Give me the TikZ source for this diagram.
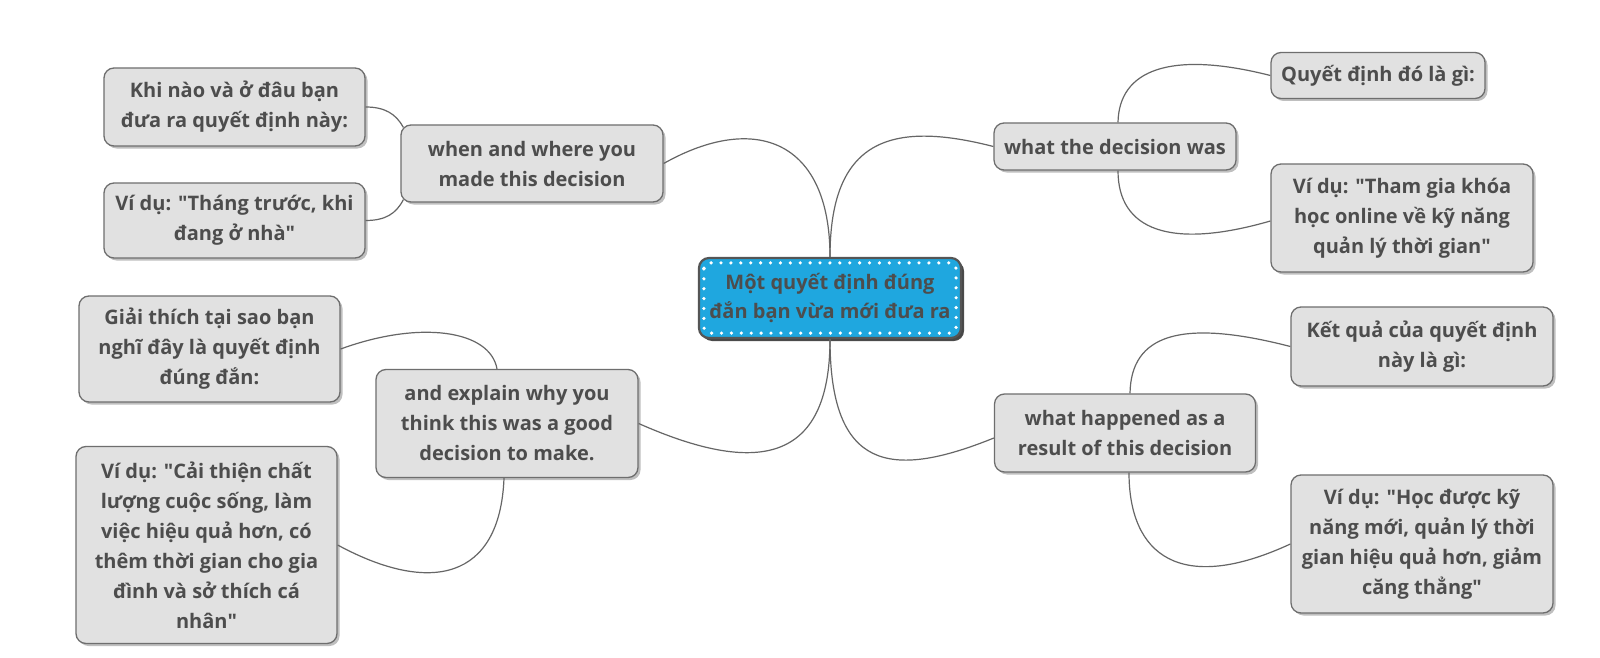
\documentclass[tikz,border=0pt]{standalone}
\usepackage{fontspec}
\setmainfont{Open Sans}
\newfontfamily\quotefont{Open Sans}
\usetikzlibrary{shadows,calc}
\definecolor{boxfill}{HTML}{E1E1E1}
\definecolor{boxline}{HTML}{6E6E6E}
\definecolor{txt}{HTML}{4D4D4D}
\definecolor{cfill}{HTML}{1FA7DF}
\definecolor{cline}{HTML}{555555}
\definecolor{conn}{HTML}{666666}
\newcommand\dq{{\quotefont"}}
\begin{document}
\begin{tikzpicture}[x=1pt,y=-1pt,
 topic/.style={draw=boxline, line width=1.3pt, fill=boxfill, rounded corners=10pt, text=txt, align=center,
   font=\fontsize{20}{30}\selectfont\bfseries, inner sep=0pt,
   drop shadow={shadow xshift=2.5pt, shadow yshift=-2.5pt, opacity=0.45, fill=black!55}},
 centre/.style={topic, fill=cfill, draw=cline, line width=2.2pt,
   drop shadow={shadow xshift=3pt, shadow yshift=-3pt, opacity=0.85, fill=black!80}},
 link/.style={draw=conn, line width=1.2pt},
 dots/.style={white, line width=3.6pt, line cap=round, dash pattern=on 0pt off 9.9pt, rounded corners=6pt}]
\useasboundingbox[fill=white] (0,0) rectangle (1600,658);

% nodes
\node[centre, minimum width=262pt, minimum height=80pt, font=\fontsize{20}{29}\selectfont\bfseries] (central) at (830,298) {Một quyết định đúng\\đắn bạn vừa mới đưa ra};
\draw[dots] ($(central.north west)+(6,6)$) rectangle ($(central.south east)+(-6,-6)$);

\node[topic, minimum width=262pt, minimum height=77pt] (when) at (532,163.5) {when and where you\\made this decision};
\node[topic, minimum width=261pt, minimum height=78pt] (khi) at (234.5,107) {Khi nào và ở đâu bạn\\đưa ra quyết định này:};
\node[topic, minimum width=261pt, minimum height=75pt] (vd1) at (234.5,220.5) {Ví dụ: \dq Tháng trước, khi\\đang ở nhà\dq};

\node[topic, minimum width=242pt, minimum height=47pt] (what) at (1115,146.5) {what the decision was};
\node[topic, minimum width=214pt, minimum height=46pt] (quyet) at (1378,75.5) {Quyết định đó là gì:};
\node[topic, minimum width=262pt, minimum height=108pt] (vd2) at (1402,218) {Ví dụ: \dq Tham gia khóa\\học online về kỹ năng\\quản lý thời gian\dq};

\node[topic, minimum width=262pt, minimum height=108pt] (explain) at (507,423.5) {and explain why you\\think this was a good\\decision to make.};
\node[topic, minimum width=261pt, minimum height=106pt] (giai) at (209.5,349) {Giải thích tại sao bạn\\nghĩ đây là quyết định\\đúng đắn:};
\node[topic, minimum width=261pt, minimum height=197pt] (vd3) at (206.5,545) {Ví dụ: \dq Cải thiện chất\\lượng cuộc sống, làm\\việc hiệu quả hơn, có\\thêm thời gian cho gia\\đình và sở thích cá\\nhân\dq};

\node[topic, minimum width=261pt, minimum height=78pt] (happened) at (1125,433) {what happened as a\\result of this decision};
\node[topic, minimum width=262pt, minimum height=79pt] (ketqua) at (1422,346.5) {Kết quả của quyết định\\này là gì:};
\node[topic, minimum width=262pt, minimum height=138pt] (vd4) at (1422,544) {Ví dụ: \dq Học được kỹ\\năng mới, quản lý thời\\gian hiệu quả hơn, giảm\\căng thẳng\dq};

% main connectors
\draw[link] (central.north) .. controls (830,140) and (755,112) .. (when.east);
\draw[link] (central.north) .. controls (830,140) and (890,120) .. (what.west);
\draw[link] (central.south) .. controls (830,465) and (755,475) .. (explain.east);
\draw[link] (central.south) .. controls (830,470) and (890,480) .. ([yshift=-5pt]happened.west);

% sub connectors
\draw[link] ($(when.north west)+(3,3)$) .. controls (396,114) and (385,107) .. (khi.east);
\draw[link] ($(when.south west)+(3,-3)$) .. controls (396,214) and (385,220.5) .. (vd1.east);
\draw[link] ($(what.north)+(3,0)$) .. controls (1119,70) and (1170,50) .. (quyet.west);
\draw[link] ($(what.south)+(3,0)$) .. controls (1118,230) and (1170,250) .. ([yshift=-3pt]vd2.west);
\draw[link] ($(happened.north)+(5,0)$) .. controls (1131,335) and (1180,318) .. (ketqua.west);
\draw[link] ($(happened.south)+(4,0)$) .. controls (1129,555) and (1180,595) .. (vd4.west);
\draw[link] ($(explain.north)+(-10,0)$) .. controls (490,330) and (420,320) .. (giai.east);
\draw[link] ($(explain.south)+(-3,0)$) .. controls (500,580) and (430,595) .. (vd3.east);
\end{tikzpicture}
\end{document}
